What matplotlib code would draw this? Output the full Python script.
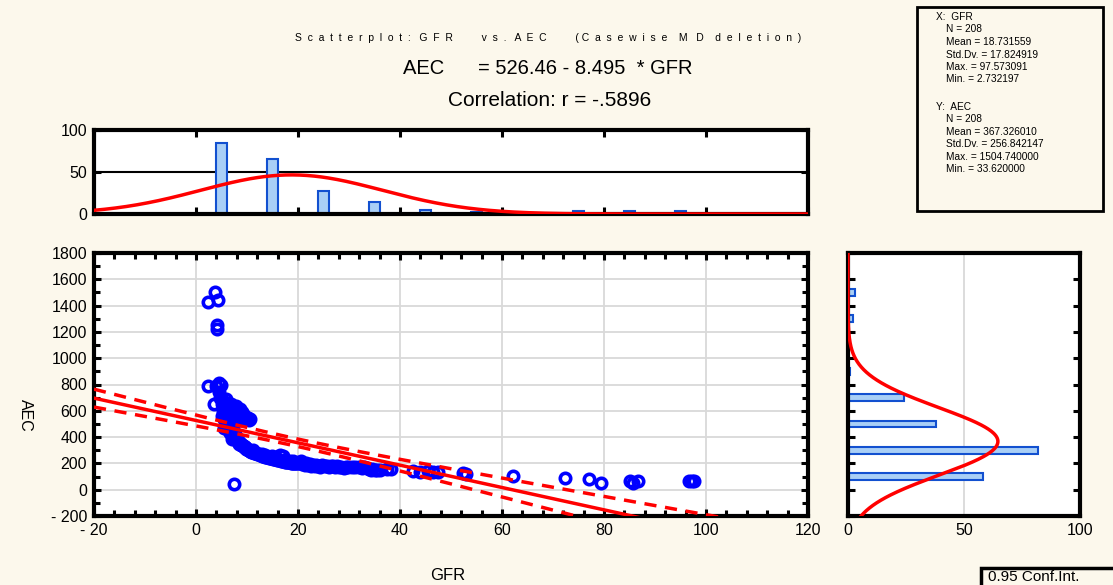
import numpy as np
import matplotlib
matplotlib.use("Agg")
import matplotlib.pyplot as plt
from matplotlib.patches import Rectangle
from matplotlib.ticker import MultipleLocator, FuncFormatter

plt.rcParams['font.family'] = ['Liberation Sans', 'DejaVu Sans']

# ---------------- data ----------------
gfr = [2.4, 3.7, 4.4, 4.1, 4.1, 2.4, 4.6, 4.0, 4.9, 3.5, 7.5,
       4.6, 4.8, 5.0, 5.0, 5.2, 5.3, 5.5, 5.0, 5.4, 5.6, 5.8, 5.5,
       5.8, 6.0, 6.0, 6.2, 6.1, 6.3, 6.0, 6.4, 6.2, 6.5, 6.3, 6.4, 6.6,
       6.8, 7.0, 6.9, 7.0, 7.2, 6.8, 7.1, 7.3, 7.0, 7.2, 7.0, 7.3, 7.4, 7.1,
       7.8, 8.0, 7.9, 8.2, 8.0, 8.3, 7.7, 7.9, 8.0, 8.2, 8.4, 8.5,
       8.7, 9.0, 9.2, 9.5, 9.8, 9.0, 9.3, 8.8, 9.0, 9.2, 9.4, 9.6, 9.8, 9.9,
       8.1, 8.3, 8.6, 8.9, 9.1, 9.5, 9.7, 8.4, 9.6,
       10.2, 10.5, 10.3,
       10.0, 10.1, 10.3, 10.5, 10.6, 10.8, 11.0, 11.2, 11.4, 11.6, 11.8, 12.0,
       12.2, 12.4, 12.6, 12.8, 13.0, 13.2, 13.4, 13.6, 13.8, 14.0, 14.2, 14.4,
       14.6, 14.8, 15.0, 15.2, 15.4, 15.6, 15.8, 16.0, 16.5, 17.0, 16.4, 16.6,
       16.8, 17.0, 17.2, 17.4, 17.6, 17.8, 18.0, 18.2, 18.4, 18.6, 18.8, 19.0,
       19.2, 19.4, 19.6, 19.8, 11.1, 12.9, 14.9, 18.5, 19.1, 15.5, 13.5, 17.5,
       20.2, 20.5, 20.8, 21.0, 21.3, 21.6, 22.0, 22.3, 22.6, 23.0, 23.3, 23.6,
       24.0, 24.4, 24.8, 25.2, 25.6, 26.0, 26.4, 26.8, 27.2, 27.6, 28.0, 28.5,
       29.0, 29.4, 29.8,
       30.5, 31.2, 32.0, 32.5, 33.0, 33.5, 34.0, 34.3, 34.6, 35.0, 35.4, 36.0,
       37.5, 38.2,
       42.5, 44.0, 45.5, 46.5, 47.5,
       52.3, 53.0,
       62.1,
       72.3, 77.0, 79.5,
       85.1, 85.7, 86.7,
       96.6, 97.2, 97.57]

aec = [1430, 1500, 1445, 1250, 1225, 785, 810, 790, 795, 655, 45,
       740, 700, 680, 650, 620, 600, 580, 560, 540, 520, 500, 470,
       690, 660, 630, 610, 590, 570, 550, 530, 510, 490, 470, 450, 430,
       650, 630, 610, 590, 570, 550, 530, 510, 480, 460, 440, 420, 400, 385,
       640, 620, 600, 580, 560, 540, 420, 400, 385, 370, 360, 350,
       610, 590, 575, 560, 552, 550, 538, 345, 340, 335, 330, 325, 318, 312,
       375, 365, 352, 342, 338, 328, 322, 530, 545,
       548, 540, 530,
       310, 305, 300, 298, 292, 290, 288, 285, 282, 278, 276, 274,
       270, 268, 265, 262, 260, 258, 255, 252, 250, 248, 246, 244,
       241, 238, 236, 234, 232, 230, 228, 226, 265, 258, 224, 222,
       220, 218, 216, 214, 213, 212, 210, 208, 207, 206, 205, 204,
       203, 202, 201, 200, 300, 270, 255, 220, 215, 245, 265, 228,
       200, 215, 195, 205, 190, 200, 185, 195, 180, 190, 178, 185,
       182, 176, 185, 178, 182, 175, 183, 178, 172, 180, 170, 176,
       168, 174, 170,
       172, 175, 170, 168, 172, 165, 160, 150, 155, 148, 152, 150,
       160, 155,
       140, 138, 142, 135, 138,
       128, 122,
       105,
       90, 85, 50,
       68, 50, 68,
       66, 66, 66]

# histogram of GFR (bin centres, counts)
gfr_bins = [5, 15, 25, 35, 45, 55, 65, 75, 85, 95]
gfr_counts = [85, 65, 27, 14, 5, 2, 1, 3, 3, 3]
# histogram of AEC (bin centres, counts)
aec_bins = [100, 300, 500, 700, 900, 1100, 1300, 1500]
aec_counts = [58, 82, 38, 24, 1, 0, 2, 3]

# summary statistics shown in the chart
n_obs = 208
x_mean, x_sd, x_max, x_min = 18.731559, 17.824919, 97.573091, 2.732197
y_mean, y_sd, y_max, y_min = 367.326010, 256.842147, 1504.740000, 33.620000
intercept, slope, r_corr = 526.46, -8.495, -0.5896

# ---------------- styling ----------------
W, H = 1113, 585
bg = '#FCF8EC'
blue = '#0000FF'
red = '#FF0000'
bar_face = '#A9CFF6'
bar_edge = '#1250D0'
grid_c = '#D9D9D9'

fig = plt.figure(figsize=(W / 100, H / 100), dpi=100, facecolor=bg)


def fbox(x0, y0, x1, y1):
    return [x0 / W, (H - y1) / H, (x1 - x0) / W, (y1 - y0) / H]


ax = fig.add_axes(fbox(94, 253, 808, 516))
axt = fig.add_axes(fbox(94, 130, 808, 214))
axr = fig.add_axes(fbox(848, 253, 1080, 516))


def neg_fmt(v, pos):
    v = int(round(v))
    return f"- {abs(v)}" if v < 0 else f"{v}"


for a in (ax, axt, axr):
    a.set_facecolor('white')
    for s in a.spines.values():
        s.set_linewidth(3)
        s.set_color('black')
    a.tick_params(which='both', direction='in', top=True, right=True,
                  width=2.2, colors='black', labelsize=11.5, pad=5)
    a.tick_params(which='major', length=5)
    a.tick_params(which='minor', length=4)

# ---- main scatter ----
ax.set_xlim(-20, 120)
ax.set_ylim(-200, 1800)
ax.xaxis.set_major_locator(MultipleLocator(20))
ax.xaxis.set_minor_locator(MultipleLocator(4))
ax.yaxis.set_major_locator(MultipleLocator(200))
ax.yaxis.set_minor_locator(MultipleLocator(100))
ax.xaxis.set_major_formatter(FuncFormatter(neg_fmt))
ax.yaxis.set_major_formatter(FuncFormatter(neg_fmt))
ax.grid(True, which='major', color=grid_c, lw=1.3)
ax.set_axisbelow(True)

xs = np.linspace(-20, 120, 300)
yfit = intercept + slope * xs
s_res = y_sd * np.sqrt(1 - r_corr ** 2) * np.sqrt((n_obs - 1) / (n_obs - 2))
sxx = (n_obs - 1) * x_sd ** 2
half = 1.971 * s_res * np.sqrt(1 / n_obs + (xs - x_mean) ** 2 / sxx)

ax.plot(gfr, aec, 'o', ms=7.5, mfc='none', mec=blue, mew=2.6, zorder=3)
ax.plot(xs, yfit, color=red, lw=2.5, zorder=4)
ax.plot(xs, yfit + half, color=red, lw=2.5, dashes=(3.5, 2.5), zorder=4)
ax.plot(xs, yfit - half, color=red, lw=2.5, dashes=(3.5, 2.5), zorder=4)

# ---- top histogram ----
axt.set_xlim(-20, 120)
axt.set_ylim(0, 100)
axt.xaxis.set_major_locator(MultipleLocator(20))
axt.yaxis.set_major_locator(MultipleLocator(50))
axt.tick_params(labelbottom=False)
axt.axhline(50, color='black', lw=1.5, zorder=1)
axt.bar(gfr_bins, gfr_counts, width=2.0, color=bar_face, edgecolor=bar_edge,
        lw=1.5, zorder=2)
xt = np.linspace(-20, 120, 400)
axt.plot(xt, n_obs * 10 / (x_sd * np.sqrt(2 * np.pi)) *
         np.exp(-0.5 * ((xt - x_mean) / x_sd) ** 2), color=red, lw=2.5, zorder=3)

# ---- right histogram ----
axr.set_xlim(0, 100)
axr.set_ylim(-200, 1800)
axr.xaxis.set_major_locator(MultipleLocator(50))
axr.yaxis.set_major_locator(MultipleLocator(200))
axr.tick_params(labelleft=False, bottom=False, top=False)
axr.grid(True, axis='x', color=grid_c, lw=1.3)
axr.set_axisbelow(True)
axr.barh(aec_bins, aec_counts, height=50, color=bar_face, edgecolor=bar_edge,
         lw=1.5, zorder=2)
yr = np.linspace(-200, 1800, 400)
axr.plot(n_obs * 200 / (y_sd * np.sqrt(2 * np.pi)) *
         np.exp(-0.5 * ((yr - y_mean) / y_sd) ** 2), yr, color=red, lw=2.5,
         zorder=3)

# ---- texts ----
title_small = ("S  c  a  t  t  e  r  p  l  o  t  :   G  F  R          "
               "v  s  .   A  E  C          ( C  a  s  e  w  i  s  e    M   D    "
               "d  e  l  e  t  i  o  n  )")
fig.text(548 / W, 1 - 38 / H, title_small, ha='center', va='center', fontsize=7.5)
fig.text(548 / W, 1 - 68 / H, "AEC      = 526.46 - 8.495  * GFR", ha='center',
         va='center', fontsize=14.5)
fig.text(550 / W, 1 - 100 / H, "Correlation: r = -.5896", ha='center',
         va='center', fontsize=15)
fig.text(448 / W, 1 - 575 / H, "GFR", ha='center', va='center', fontsize=12)
fig.text(25 / W, 1 - 415 / H, "AEC", ha='center', va='center', fontsize=11.5,
         rotation=270)

# stats box
fig.patches.append(Rectangle((917 / W, 1 - 211 / H), 186 / W, 204 / H,
                             transform=fig.transFigure, facecolor=bg,
                             edgecolor='black', lw=2))
lines_x = ["X:  GFR", "N = 208", "Mean = 18.731559", "Std.Dv. = 17.824919",
           "Max. = 97.573091", "Min. = 2.732197"]
lines_y = ["Y:  AEC", "N = 208", "Mean = 367.326010", "Std.Dv. = 256.842147",
           "Max. = 1504.740000", "Min. = 33.620000"]
for i, t in enumerate(lines_x):
    fig.text((936 if i == 0 else 946) / W, 1 - (17 + 12.5 * i) / H, t,
             va='center', fontsize=7.3)
for i, t in enumerate(lines_y):
    fig.text((936 if i == 0 else 946) / W, 1 - (107 + 12.4 * i) / H, t,
             va='center', fontsize=7.3)

# legend box
fig.patches.append(Rectangle((981 / W, -0.01), 140 / W, 17 / H + 0.01,
                             transform=fig.transFigure, facecolor=bg,
                             edgecolor='black', lw=2.5))
fig.text(988 / W, 1 - 581 / H, "0.95 Conf.Int.", va='baseline', fontsize=11)

fig.savefig("out.png", dpi=100, facecolor=bg)
